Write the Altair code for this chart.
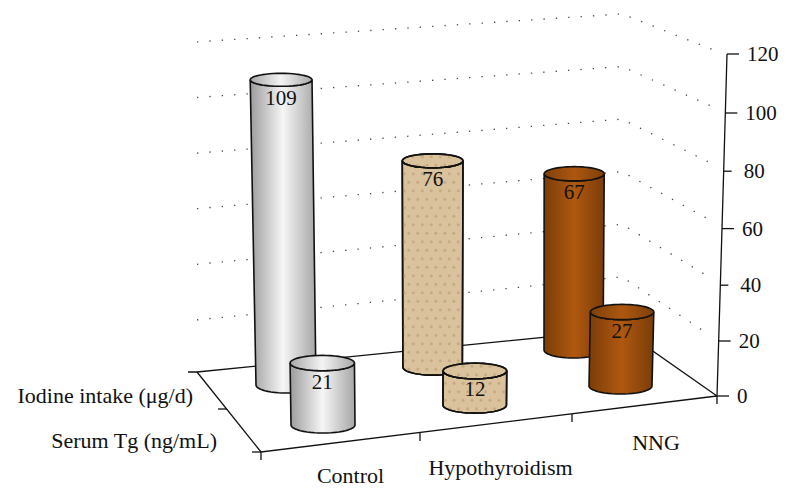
import math
import altair as alt
import pandas as pd

categories = ["Control", "Hypothyroidism", "NNG"]
iodine_values = [109, 76, 67]
serum_values = [21, 12, 27]
axis_ticks = [0, 20, 40, 60, 80, 100, 120]
grid_levels = [20, 40, 60, 80, 100, 120]
series_labels = ["Iodine intake (\u03bcg/d)", "Serum Tg (ng/mL)"]

FONT = "Liberation Serif"
SX = alt.Scale(domain=[8, 782], nice=False, zero=False)
SY = alt.Scale(domain=[488, 8], nice=False, zero=False)
X = lambda f="x": alt.X(f"{f}:Q", scale=SX, axis=None)
Y = lambda f="y": alt.Y(f"{f}:Q", scale=SY, axis=None)

def grad(stops):
    return alt.LinearGradient(gradient="linear", x1=0, x2=1, y1=0, y2=0,
                              stops=[alt.GradientStop(offset=o, color=c) for o, c in stops])

STYLES = [
    dict(body=grad([(0, "#9c9c9c"), (0.5, "#f6f6f6"), (1, "#a6a6a6")]),
         top=grad([(0, "#a8a8a8"), (0.5, "#f4f4f4"), (1, "#a8a8a8")]), dots=None),
    dict(body="#dac29d", top="#dac29d", dots="#c2a27a"),
    dict(body=grad([(0, "#7a3d08"), (0.5, "#b05810"), (1, "#7a3d08")]),
         top=grad([(0, "#7e4009"), (0.5, "#ad5710"), (1, "#7e4009")]), dots=None),
]
CAT_SLOT = [0, 1.02, 2]

def cyl_geometry(c, s, value):
    """c: category index, s: series depth (0 front = serum, 1 back = iodine)."""
    u = CAT_SLOT[c]
    bx = 323 + 148.75 * u - 37 * s - 5 * u * s
    by = 425 - 19.5 * u - 40 * s + 2 * u * s
    k = 2.95 - 0.105 * c - 0.15 * s + 0.02 * c * s
    h = value * k
    lean = (bx - 430) / 9000
    if s == 1 and bx > 430:
        lean *= 0.25
    tx = bx + h * lean
    ty = by - h
    rxb = 32 - 0.25 * u - 2 * s
    rxt = rxb + h * 0.003
    ryb = 8
    ryt = 8 - h * 0.005
    return bx, by, tx, ty, rxb, rxt, ryb, ryt

def outline_points(g):
    bx, by, tx, ty, rxb, rxt, ryb, ryt = g
    pts = []
    n = 24
    for j in range(n + 1):          # lower arc of the top ellipse, left to right
        a = math.pi - math.pi * j / n
        pts.append((tx + rxt * math.cos(a), ty + ryt * math.sin(a)))
    for j in range(n + 1):          # lower arc of the base, right to left
        a = math.pi * j / n
        pts.append((bx + rxb * math.cos(a), by + ryb * math.sin(a)))
    pts.append(pts[0])
    return pts

def ellipse_points(g):
    bx, by, tx, ty, rxb, rxt, ryb, ryt = g
    n = 48
    return [(tx + rxt * math.cos(2 * math.pi * j / n), ty + ryt * math.sin(2 * math.pi * j / n))
            for j in range(n + 1)]

def frame(pts):
    return pd.DataFrame({"x": [p[0] for p in pts], "y": [p[1] for p in pts], "i": range(len(pts))})

def poly(pts, fill, sw=1.6):
    return alt.Chart(frame(pts)).mark_line(fill=fill, stroke="#111111", strokeWidth=sw, strokeJoin="round").encode(
        x=X(), y=Y(), order=alt.Order("i:Q"))

def seg(pts, sw=1.3, color="#111111", dash=None):
    kw = dict(stroke=color, strokeWidth=sw)
    if dash:
        kw["strokeDash"] = dash
    return alt.Chart(frame(pts)).mark_line(**kw).encode(x=X(), y=Y(), order=alt.Order("i:Q"))

def texture(g):
    bx, by, tx, ty, rxb, rxt, ryb, ryt = g
    pts = []
    row = 0
    y = ty - ryt + 3
    while y < by + ryb - 2:
        off = 0 if row % 2 == 0 else 4.5
        x = tx - rxt + 2 + off
        while x < tx + rxt:
            inside_top = ((x - tx) / rxt) ** 2 + ((y - ty) / ryt) ** 2 < 0.92
            inside_base = ((x - bx) / rxb) ** 2 + ((y - by) / ryb) ** 2 < 0.92
            inside_mid = ty <= y <= by and abs(x - (tx + (bx - tx) * (y - ty) / (by - ty))) < rxb - 1
            if inside_top or inside_base or inside_mid:
                pts.append((x, y))
            x += 9
        y += 8.5
        row += 1
    return alt.Chart(frame(pts)).mark_point(filled=True, size=9, opacity=0.75, color=STYLES[1]["dots"]).encode(x=X(), y=Y())

def cylinder(c, s, value):
    st = STYLES[c]
    g = cyl_geometry(c, s, value)
    parts = [poly(outline_points(g), st["body"])]
    ell = poly(ellipse_points(g), st["top"])
    if st["dots"]:
        parts.append(ell)
        parts.append(texture(g))
        parts.append(seg(outline_points(g), 1.6))
        parts.append(seg(ellipse_points(g), 1.6))
    else:
        parts.append(ell)
    lab = pd.DataFrame({"x": [g[2]], "y": [g[3] + 25.5], "t": [str(value)]})
    parts.append(alt.Chart(lab).mark_text(font=FONT, fontSize=21, color="#111111", align="center",
                                          baseline="alphabetic").encode(x=X(), y=Y(), text="t:N"))
    return parts

def axis_y(v):
    return 396 - 2.73 * v - 0.001 * v * v

def axis_x(v):
    return 717 + v * 10 / 120

layers = []

# dotted walls
for v in grid_levels:
    left = (197, 375.5 - 2.78 * v)
    corner = (622, 329.5 - 2.63 * v)
    right = (708 + (v - 20) * 0.08, 390.5 - 2.83 * v)
    layers.append(seg([left, corner, right], 1.3, "#444444", [1.3, 11.1]))

# floor
floor_back = [(188, 372), (197, 372), (622, 329.5), (717, 396)]
floor_front = [(197, 372), (261, 452), (717, 396)]
layers.append(seg(floor_back))
layers.append(seg(floor_front))

# floor ticks
for a, b in [((218, 409), (227, 409)), ((252, 452), (261, 452)), ((261, 452), (261, 460)),
             ((420, 433), (420, 441)), ((572, 414), (572, 422)), ((717, 396), (717, 404))]:
    layers.append(seg([a, b]))

# value axis
layers.append(seg([(axis_x(v), axis_y(v)) for v in axis_ticks]))
for v in axis_ticks:
    xa = axis_x(v)
    length = 8 if v in (40, 80) else 12
    layers.append(seg([(xa - (0 if v else 2), axis_y(v)), (xa + length, axis_y(v))]))
ax_lab = pd.DataFrame({"x": [axis_x(v) + 20 for v in axis_ticks],
                       "y": [axis_y(v) + 7 for v in axis_ticks],
                       "t": [str(v) for v in axis_ticks]})
layers.append(alt.Chart(ax_lab).mark_text(font=FONT, fontSize=21, color="#111111", align="left",
                                          baseline="alphabetic").encode(x=X(), y=Y(), text="t:N"))

# cylinders: back row, then front row
for c in range(3):
    layers += cylinder(c, 1, iodine_values[c])
for c in range(3):
    layers += cylinder(c, 0, serum_values[c])

# category and series labels
cat_lab = pd.DataFrame({"x": [350.5, 500.5, 656], "y": [483, 475, 450], "t": categories})
layers.append(alt.Chart(cat_lab).mark_text(font=FONT, fontSize=22, color="#111111", align="center",
                                           baseline="alphabetic").encode(x=X(), y=Y(), text="t:N"))
ser_lab = pd.DataFrame({"x": [193, 217], "y": [403, 448], "t": series_labels})
layers.append(alt.Chart(ser_lab).mark_text(font=FONT, fontSize=22, color="#111111", align="right",
                                           baseline="alphabetic").encode(x=X(), y=Y(), text="t:N"))

chart = alt.layer(*layers).properties(
    width=774, height=480, padding=0, autosize=alt.AutoSizeParams(type="none"), background="white"
).configure_view(stroke=None)

chart.save("out.html", embed_options={"renderer": "svg", "actions": False})
